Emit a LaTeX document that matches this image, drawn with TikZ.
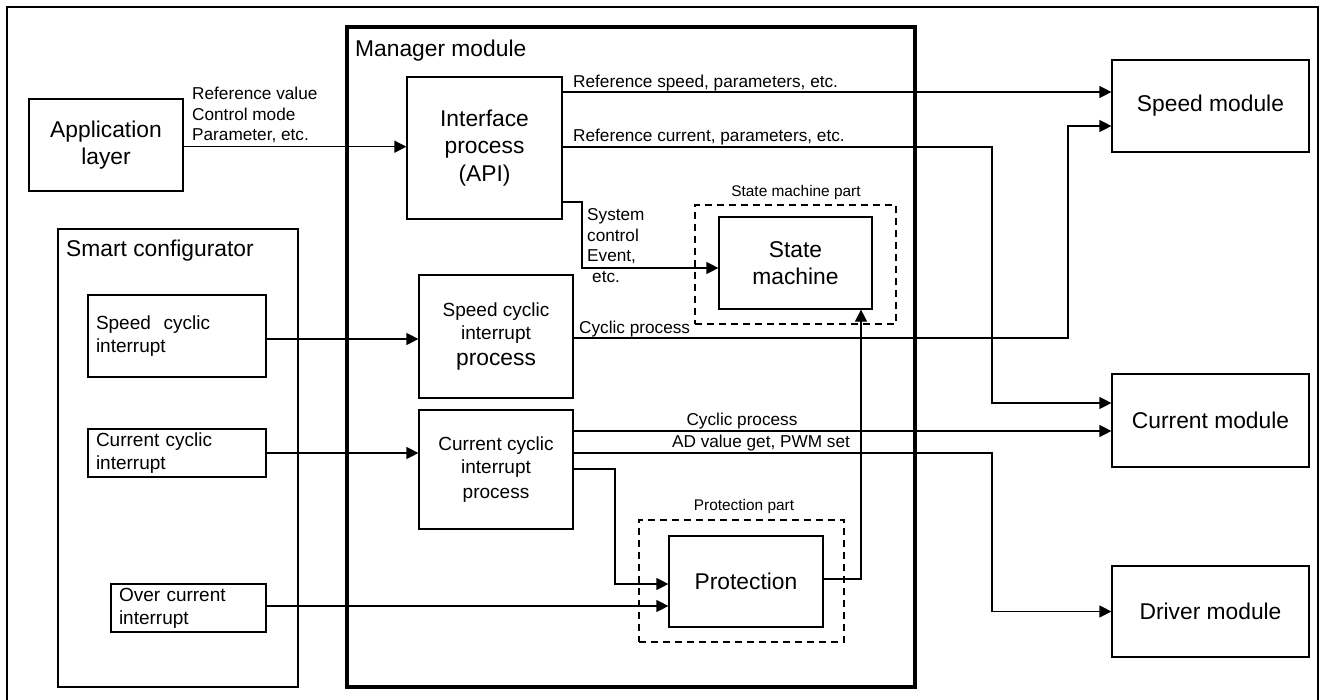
\documentclass[tikz,border=0pt]{standalone}
\usepackage{fontspec}
\setmainfont{Liberation Sans}
\usetikzlibrary{arrows.meta,calc}
\newcommand\fBig{\fontsize{22.8}{27.5}\selectfont}
\newcommand\fMed{\fontsize{19}{23.3}\selectfont}
\newcommand\fSm{\fontsize{17.2}{20.6}\selectfont}
\newcommand\fTiny{\fontsize{15.4}{18}\selectfont}
\begin{document}
\begin{tikzpicture}[x=1pt,y=-1pt,
  box/.style={draw,line width=1.2pt,inner sep=0pt,align=center,font=\fBig},
  mbox/.style={draw,line width=1.2pt,inner sep=0pt,align=center,font=\fMed},
  ibox/.style={draw,line width=1.2pt,inner xsep=8pt,inner ysep=0pt,align=left,font=\fMed},
  dbox/.style={draw,line width=1.2pt,dash pattern=on 7pt off 5pt,inner sep=0pt},
  lbl/.style={inner sep=0pt,font=\fSm},
  tlbl/.style={inner sep=0pt,font=\fTiny},
  hlbl/.style={inner sep=0pt,font=\fBig},
  arr/.style={line width=1.2pt,-{Triangle[length=12pt,width=12pt]}}]
\useasboundingbox (0,0) rectangle (1328,699);
% outer frame
\draw[line width=2pt] (7,7) rectangle (1318,720);
% containers
\node[draw,line width=4pt,minimum width=568,minimum height=660,inner sep=0pt] (mgr) at (631,357) {};
\node[hlbl,anchor=base west] (mgrlbl) at (355,56) {Manager module};
\node[draw,line width=1.2pt,minimum width=240,minimum height=458,inner sep=0pt] (smart) at (178,458) {};
\node[hlbl,anchor=base west] (smartlbl) at (66,256) {Smart configurator};
% left boxes
\node[box,minimum width=154,minimum height=92] (app) at (106,145) {Application\\layer};
\node[ibox,text width=162pt,minimum height=82] (sci) at (177,336) {Speed\ \ cyclic\\interrupt};
\node[ibox,text width=162pt,minimum height=48] (cci) at (177,453) {Current cyclic\\interrupt};
\node[ibox,text width=139pt,minimum height=48] (oci) at (188.5,608) {Over current\\interrupt};
% manager boxes
\node[box,minimum width=155,minimum height=142] (iface) at (484.5,148) {Interface\\process\\(API)};
\node[mbox,minimum width=154,minimum height=123] (sp) at (496,336.5) {Speed cyclic\\interrupt\\[3pt]{\fBig process}};
\node[mbox,minimum width=154,minimum height=119] (cp) at (496,469.5) {Current cyclic\\interrupt\\[1.5pt]process};
\node[dbox,minimum width=201,minimum height=119] (smpart) at (795.5,264.5) {};
\node[tlbl] (smpartlbl) at (796,193) {State machine part};
\node[box,fill=white,minimum width=153,minimum height=92] (sm) at (795.5,263) {State\\machine};
\node[dbox,minimum width=205,minimum height=122] (prpart) at (741.5,581) {};
\node[tlbl] (prpartlbl) at (744,507) {Protection part};
\node[box,fill=white,minimum width=154,minimum height=91] (prot) at (746,581.5) {Protection};
% right boxes
\node[box,minimum width=197,minimum height=92] (spd) at (1210.5,106) {Speed module};
\node[box,minimum width=197,minimum height=93] (cur) at (1210.5,420.5) {Current module};
\node[box,minimum width=197,minimum height=91] (drv) at (1210.5,611.5) {Driver module};
% helper rows / columns
\coordinate (yA) at (0,146.7);
\coordinate (yRS) at (0,92);
\coordinate (yRC) at (0,147);
\coordinate (yRCe) at (0,403);
\coordinate (ySC) at (0,202);
\coordinate (ySCe) at (0,268);
\coordinate (yS) at (0,339);
\coordinate (yO) at (0,606);
\coordinate (ySP) at (0,338);
\coordinate (ySPe) at (0,126);
\coordinate (yCP) at (0,431);
\coordinate (yAD) at (0,453);
\coordinate (yPR) at (0,469);
\coordinate (yPRe) at (0,584);
\coordinate (yPS) at (0,579);
\coordinate (xRC) at (992,0);
\coordinate (xSC) at (582,0);
\coordinate (xSP) at (1068,0);
\coordinate (xPR) at (615,0);
\coordinate (xPS) at (861,0);
% connectors
\draw[arr] (app.east |- yA) -- (iface.west |- yA);
\node[lbl,anchor=north west,align=left] (applbl) at (192,86.8) {Reference value\\Control mode\\Parameter, etc.};

\draw[arr] (iface.east |- yRS) -- (spd.west |- yRS);
\node[lbl,anchor=base west] (rslbl) at (573,87) {Reference speed, parameters, etc.};

\draw[arr] (iface.east |- yRC) -- (xRC |- yRC) -- (xRC |- yRCe) -- (cur.west |- yRCe);
\node[lbl,anchor=base west] (rclbl) at (573,141.7) {Reference current, parameters, etc.};

\draw[arr] (iface.east |- ySC) -- (xSC |- ySC) -- (xSC |- ySCe) -- (sm.west |- ySCe);
\node[lbl,anchor=north west,align=left] (sclbl) at (587,208.5) {System\\control\\Event,\\\hspace{5pt}etc.};

\draw[arr] (sci.east |- yS) -- (sp.west |- yS);
\draw[arr] (cci.east) -- (cci.east -| cp.west);
\draw[arr] (oci.east |- yO) -- (prot.west |- yO);

\draw[arr] (sp.east |- ySP) -- (xSP |- ySP) -- (xSP |- ySPe) -- (spd.west |- ySPe);
\node[lbl,anchor=base west] (splbl) at (579,333) {Cyclic process};

\draw[arr] (cp.east |- yCP) -- (cur.west |- yCP);
\node[lbl,anchor=base] (cplbl) at (742,425.7) {Cyclic process};

\draw[arr] (cp.east |- yAD) -- (xRC |- yAD) -- (xRC |- drv.west) -- (drv.west);
\node[lbl,anchor=base] (adlbl) at (761,447.7) {AD value get, PWM set};

\draw[arr] (cp.east |- yPR) -- (xPR |- yPR) -- (xPR |- yPRe) -- (prot.west |- yPRe);

\draw[arr] (prot.east |- yPS) -- (xPS |- yPS) -- (xPS |- sm.south);
\end{tikzpicture}
\end{document}
